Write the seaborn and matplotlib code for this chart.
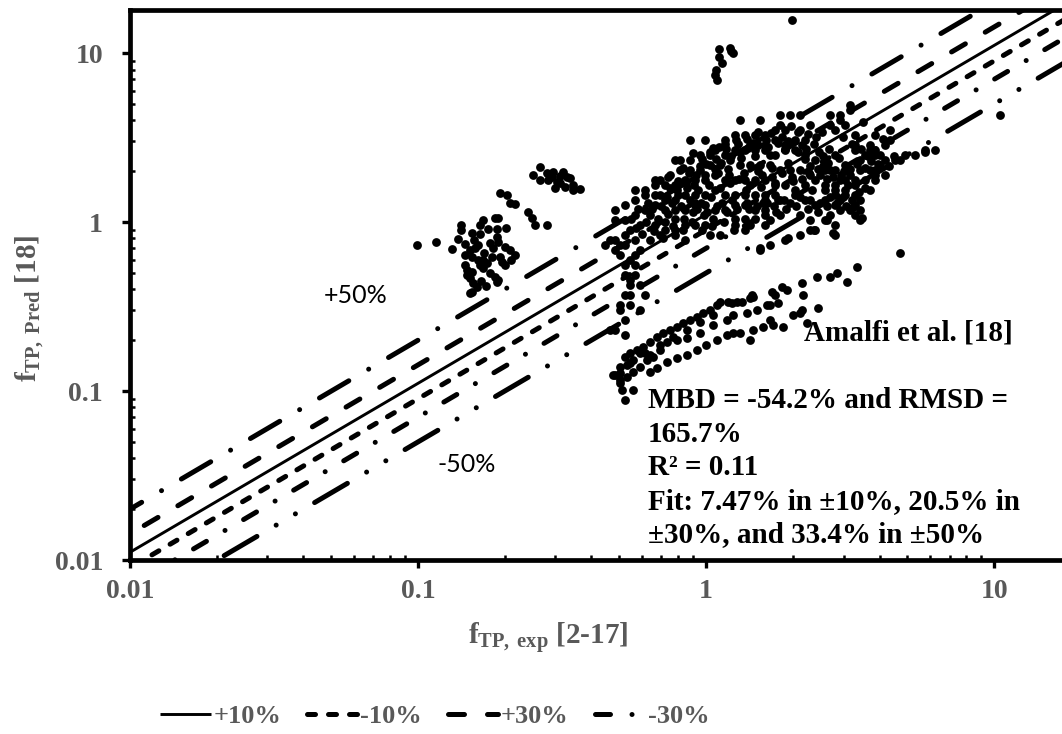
import matplotlib
matplotlib.use("Agg")
import matplotlib.pyplot as plt
import seaborn as sns
import pandas as pd
from matplotlib.lines import Line2D
from matplotlib.ticker import FixedLocator, LogLocator, NullFormatter

# ---------------- data (x = f_TP,exp ; y = f_TP,Pred) ----------------
left_group = [
    (0.099, 0.731), (0.115, 0.762), (0.131, 0.692), (0.141, 0.960), (0.141, 0.897), (0.138, 0.793),
    (0.154, 0.861), (0.164, 0.849), (0.168, 1.028), (0.164, 0.960), (0.175, 0.909), (0.185, 1.056),
    (0.190, 1.056), (0.188, 0.909), (0.202, 0.921), (0.188, 0.815), (0.178, 0.751), (0.162, 0.731),
    (0.152, 0.683), (0.146, 0.638), (0.154, 0.621), (0.162, 0.596), (0.168, 0.596), (0.182, 0.702),
    (0.193, 0.621), (0.200, 0.711), (0.209, 0.683), (0.217, 0.638), (0.196, 0.580), (0.146, 0.557),
    (0.148, 0.520), (0.154, 0.506), (0.168, 0.535), (0.178, 0.499), (0.185, 0.473), (0.190, 0.454),
    (0.152, 0.466), (0.155, 0.436), (0.160, 0.412), (0.154, 0.385), (0.148, 0.486), (0.164, 0.557),
    (0.174, 0.572), (0.152, 0.380), (0.188, 0.442), (0.158, 0.700), (0.170, 0.660), (0.180, 0.620),
    (0.165, 0.450), (0.172, 0.420), (0.200, 0.560), (0.210, 0.600), (0.145, 0.740), (0.157, 0.780),
    (0.190, 0.760),
]
upper_group = [
    (0.265, 2.115), (0.251, 1.897), (0.265, 1.773), (0.281, 1.950), (0.294, 1.977), (0.319, 1.977),
    (0.329, 1.846), (0.283, 1.773), (0.304, 1.725), (0.311, 1.700), (0.299, 1.589), (0.324, 1.611),
    (0.345, 1.655), (0.345, 1.546), (0.365, 1.567), (0.337, 1.820), (0.292, 1.850), (0.310, 1.880),
    (0.193, 1.485), (0.204, 1.445), (0.209, 1.295), (0.217, 1.278), (0.241, 1.146), (0.249, 1.056),
    (0.255, 0.960), (0.281, 0.960),
]
outlier_group = [
    (1.109, 10.56), (1.212, 10.71), (1.241, 10.00), (1.109, 9.47), (1.137, 8.73), (1.083, 7.93),
    (1.075, 7.41), (1.092, 6.92), (1.220, 10.30), (1.989, 15.67),
]
main_group = [
    (1.312, 4.01), (1.540, 4.01), (1.807, 4.30), (1.957, 4.30), (2.120, 4.30), (2.700, 4.30),
    (1.807, 3.75), (2.120, 3.50), (2.297, 3.75), (2.700, 3.75), (3.160, 4.92), (2.920, 4.30),
    (3.160, 4.60), (2.920, 4.01), (3.040, 3.75), (3.290, 3.27), (4.350, 3.50), (4.350, 3.06),
    (3.860, 3.27), (3.710, 2.855), (3.290, 2.855), (4.180, 2.855),
    (0.880, 3.06), (0.992, 3.06), (1.164, 3.06), (1.261, 3.27), (1.366, 3.27), (1.480, 3.27),
    (1.603, 3.27), (1.736, 3.50), (1.881, 3.50), (2.037, 3.06), (2.207, 3.06), (1.422, 2.855),
    (1.603, 2.855), (1.736, 3.06), (1.881, 2.855),
    (0.780, 2.33), (0.812, 2.33), (0.880, 2.33), (0.953, 2.49), (1.032, 2.49), (1.075, 2.67),
    (1.164, 2.49), (1.261, 2.67), (1.366, 2.67), (1.480, 2.67), (1.603, 2.67), (1.736, 2.49),
    (1.881, 2.67), (2.037, 2.67), (2.207, 2.49), (2.390, 2.33), (2.590, 2.33), (2.810, 2.49),
    (3.290, 2.67), (3.570, 2.49), (3.710, 2.67), (3.860, 2.67), (3.430, 2.33), (3.860, 2.49),
    (4.020, 2.175), (4.180, 2.33), (4.530, 2.33), (4.720, 2.33), (4.910, 2.49), (5.320, 2.49),
    (5.760, 2.67), (6.240, 2.67),
    (0.665, 1.773), (0.692, 1.773), (0.750, 1.897), (0.812, 2.03), (0.880, 2.03), (0.953, 2.03),
    (1.032, 2.175), (1.118, 2.175), (1.212, 2.33), (1.312, 2.175), (1.422, 2.175), (1.540, 2.175),
    (1.668, 2.175), (1.807, 2.03), (1.957, 2.03), (2.120, 2.03), (2.297, 1.897), (2.490, 1.897),
    (2.700, 2.03), (2.810, 2.03), (3.040, 2.175), (3.160, 1.897), (3.430, 2.03), (3.710, 2.03),
    (3.860, 2.03), (4.180, 1.897), (2.590, 2.03),
    (0.567, 1.547), (0.614, 1.547), (0.665, 1.656), (0.721, 1.656), (0.780, 1.656), (0.845, 1.773),
    (0.916, 1.773), (0.992, 1.773), (1.075, 1.897), (1.164, 1.773), (1.261, 1.773), (1.366, 1.773),
    (1.480, 1.773), (1.603, 1.773), (1.736, 1.656), (1.881, 1.656), (2.037, 1.547), (2.207, 1.656),
    (2.390, 1.773), (2.590, 1.656), (2.810, 1.656), (2.590, 1.547), (2.920, 1.773), (3.040, 1.773),
    (3.290, 1.773), (3.570, 1.773), (3.860, 1.897), (2.810, 1.547), (3.040, 1.547), (3.290, 1.656),
    (3.710, 1.547), (3.860, 1.773),
    (0.483, 1.178), (0.523, 1.26), (0.567, 1.35), (0.614, 1.445), (0.665, 1.445), (0.721, 1.35),
    (0.780, 1.35), (0.845, 1.445), (0.916, 1.445), (0.992, 1.445), (1.075, 1.547), (1.164, 1.445),
    (1.261, 1.445), (1.366, 1.445), (1.480, 1.445), (1.603, 1.445), (1.736, 1.445), (1.807, 1.35),
    (2.207, 1.35), (2.390, 1.26), (2.590, 1.35), (2.920, 1.35), (3.040, 1.445), (3.290, 1.445),
    (3.430, 1.35), (2.810, 1.445),
    (0.483, 1.028), (0.523, 1.028), (0.567, 1.10), (0.614, 1.178), (0.665, 1.26), (0.721, 1.178),
    (0.780, 1.178), (0.845, 1.178), (0.916, 1.26), (0.992, 1.26), (1.075, 1.178), (1.164, 1.178),
    (1.261, 1.26), (1.366, 1.26), (1.480, 1.178), (1.603, 1.178), (1.603, 1.35), (1.668, 1.028),
    (1.807, 1.10), (2.120, 1.10), (2.297, 1.028), (2.590, 1.028), (2.920, 1.178), (2.810, 1.26),
    (3.290, 1.26), (3.430, 1.178), (3.290, 1.10), (3.430, 1.028), (2.700, 1.10), (2.810, 0.960),
    (2.810, 0.838), (3.160, 1.178),
    (0.523, 0.838), (0.545, 0.897), (0.590, 0.960), (0.665, 0.960), (0.721, 0.897), (0.780, 0.897),
    (0.845, 0.960), (0.916, 0.960), (0.992, 0.960), (1.261, 0.960), (1.422, 0.960), (1.603, 0.960),
    (0.523, 0.731), (0.567, 0.782), (0.639, 0.782), (0.692, 0.838), (0.780, 0.838), (0.845, 0.782),
    (1.032, 0.838), (1.118, 0.838), (1.366, 0.897), (1.540, 0.683), (1.668, 0.731), (1.881, 0.782),
    (2.297, 0.897), (2.390, 0.897), (2.120, 0.838), (1.540, 0.700), (1.920, 0.800), (2.360, 0.897),
    (2.630, 1.03), (2.760, 0.86), (3.480, 1.06), (3.240, 1.23), (2.990, 1.41),
    (4.720, 0.655), (3.340, 0.540), (10.50, 4.30), (5.760, 2.59),
]
main_core = [
    (0.60, 0.85), (0.62, 1.00), (0.64, 1.10), (0.66, 0.88), (0.68, 1.05), (0.70, 1.25), (0.72, 1.00),
    (0.74, 1.12), (0.76, 1.30), (0.78, 1.05), (0.80, 1.45), (0.82, 1.25), (0.84, 1.05), (0.86, 1.60),
    (0.88, 1.35), (0.90, 1.15), (0.92, 1.90), (0.94, 1.55), (0.96, 1.30), (0.98, 1.10), (1.00, 2.20),
    (1.02, 1.65), (1.04, 1.40), (1.06, 1.05), (1.08, 2.35), (1.10, 1.95), (1.12, 1.60), (1.14, 1.30),
    (1.17, 2.70), (1.19, 2.05), (1.21, 1.70), (1.23, 1.35), (1.26, 1.05), (1.29, 2.90), (1.32, 2.40),
    (1.35, 1.95), (1.38, 1.55), (1.41, 1.20), (1.45, 2.95), (1.48, 2.45), (1.51, 2.00), (1.55, 1.62),
    (1.58, 1.30), (1.62, 3.05), (1.66, 2.50), (1.70, 2.10), (1.74, 1.70), (1.78, 1.35), (1.83, 3.20),
    (1.88, 2.70), (1.93, 2.25), (1.98, 1.85), (2.03, 1.45), (2.09, 3.40), (2.15, 2.85), (2.21, 2.35),
    (2.27, 1.95), (2.33, 1.55), (2.40, 3.20), (2.47, 2.60), (2.54, 2.15), (2.62, 1.80), (2.70, 1.40),
    (2.80, 3.50), (2.90, 2.40), (3.00, 2.00), (3.10, 1.65), (0.58, 1.20), (0.55, 1.05), (0.57, 0.92),
    (0.63, 1.30), (0.69, 1.45), (0.75, 1.60), (0.80, 1.75), (0.87, 1.95), (0.95, 2.15), (1.03, 2.60),
    (1.11, 2.80), (0.71, 0.80), (0.77, 0.95), (0.83, 0.90), (0.89, 1.00), (0.97, 0.90), (1.05, 0.95),
    (1.15, 1.00), (1.25, 0.90), (1.36, 1.05), (1.48, 1.05), (1.60, 1.10), (1.75, 1.15), (1.90, 1.20),
    (2.05, 1.25), (2.25, 1.20), (2.45, 1.15),
]
main_fill = [
    (0.65, 1.20), (0.73, 1.40), (0.79, 1.55), (0.85, 1.70), (0.91, 1.65), (0.99, 1.90), (1.07, 2.05),
    (1.13, 2.25), (1.22, 2.45), (1.31, 2.60), (1.40, 2.75), (1.52, 2.85), (1.64, 2.80), (1.77, 2.95),
    (1.92, 3.00), (2.08, 2.60), (2.22, 2.70), (2.36, 2.90), (2.55, 2.45), (2.68, 2.70),
    (0.93, 1.20), (1.01, 1.15), (1.09, 1.25), (1.18, 1.15), (1.28, 1.20), (1.39, 1.30), (1.50, 1.25),
    (1.63, 1.30), (1.72, 1.25), (1.86, 1.35), (1.96, 1.30), (2.12, 1.40), (2.30, 1.35), (2.48, 1.30),
    (2.62, 1.25), (2.85, 1.30), (3.05, 1.25), (3.20, 1.35), (3.40, 1.50), (3.55, 1.60),
    (1.20, 1.90), (1.30, 1.80), (1.42, 1.65), (1.56, 1.90), (1.70, 1.85), (1.84, 1.95), (2.00, 1.75),
    (2.15, 1.80), (2.30, 2.15), (2.45, 2.05), (2.65, 2.25), (2.75, 1.85), (2.95, 1.90), (3.15, 2.05),
    (3.35, 2.20), (3.55, 2.10), (3.75, 2.30), (3.95, 2.20), (4.30, 2.15), (4.50, 2.45),
    (0.74, 1.85), (0.83, 2.10), (0.90, 2.55), (0.97, 2.35), (1.06, 2.75), (1.16, 2.90), (1.27, 3.05),
    (1.39, 3.10), (1.52, 3.40), (1.68, 3.35), (1.97, 3.70), (2.26, 3.30), (2.52, 3.40), (2.98, 3.20),
    (3.20, 2.90), (3.45, 2.70), (3.65, 2.45), (4.00, 2.50), (4.10, 3.10), (3.50, 3.90),
]
streak_group = [
    (0.464, 0.782), (0.483, 0.782), (0.446, 0.731), (0.483, 0.683), (0.503, 0.638), (0.523, 0.557),
    (0.523, 0.486), (0.545, 0.424), (0.545, 0.370), (0.523, 0.370), (0.503, 0.323), (0.503, 0.3015),
    (0.523, 0.263), (0.523, 0.2144), (0.567, 0.557), (0.567, 0.486), (0.590, 0.424), (0.614, 0.370),
    (0.545, 0.454), (0.545, 0.323), (0.590, 0.3015), (0.464, 0.2296), (0.483, 0.2296), (0.545, 0.596),
    (0.590, 0.683), (0.567, 0.638), (0.503, 0.731),
]
band_upper = [
    (0.483, 0.1244), (0.503, 0.139), (0.523, 0.159), (0.545, 0.169), (0.576, 0.1748), (0.604, 0.182),
    (0.639, 0.195), (0.676, 0.209), (0.709, 0.220), (0.750, 0.2296), (0.793, 0.239), (0.832, 0.252),
    (0.880, 0.263), (0.931, 0.274), (0.976, 0.290), (1.032, 0.3015), (1.092, 0.323), (1.118, 0.337),
    (1.230, 0.332), (1.280, 0.337), (1.330, 0.337), (1.422, 0.355), (1.457, 0.360), (1.700, 0.385),
    (1.840, 0.412), (2.150, 0.436), (2.430, 0.473), (2.700, 0.473), (2.850, 0.499), (3.090, 0.442),
    (2.170, 0.370), (1.440, 0.370), (0.503, 0.128), (0.531, 0.1425), (0.558, 0.1526), (0.614, 0.169),
    (0.692, 0.187), (0.768, 0.209), (0.858, 0.2296), (0.953, 0.256), (1.058, 0.282), (1.190, 0.337),
]
band_middle = [
    (0.503, 0.111), (0.531, 0.121), (0.558, 0.130), (0.590, 0.139), (0.624, 0.1526), (0.655, 0.159),
    (0.732, 0.195), (0.793, 0.2003), (0.858, 0.206), (0.953, 0.220), (1.058, 0.2457), (1.180, 0.263),
    (1.240, 0.282), (1.390, 0.290), (1.500, 0.3015), (1.668, 0.323), (1.736, 0.370), (1.910, 0.396),
    (0.692, 0.1748), (0.639, 0.1633), (1.630, 0.323), (1.780, 0.332), (2.150, 0.3015), (1.668, 0.263),
]
band_lower = [
    (0.510, 0.1014), (0.523, 0.0885), (0.558, 0.1014), (0.639, 0.130), (0.676, 0.137), (0.732, 0.149),
    (0.793, 0.156), (0.858, 0.1633), (0.931, 0.1748), (1.000, 0.1871), (1.092, 0.2003), (1.180, 0.2144),
    (1.240, 0.220), (1.312, 0.220), (1.422, 0.2003), (1.457, 0.2296), (1.580, 0.239), (1.710, 0.2457),
    (1.850, 0.239), (2.000, 0.282), (2.120, 0.290), (2.240, 0.252), (2.450, 0.310), (0.476, 0.1244),
    (0.503, 0.1162), (0.545, 0.147), (0.590, 0.168),
]

# error-band reference lines y = factor * x
band_labels = ["+10%", "-10%", "+30%", "-30%", "+50%", "-50%"]
band_factors = [1 / 0.9, 0.9, 1 / 0.7, 0.7, 1 / 0.5, 0.5]
ref_x = [0.005, 40.0]

tick_values = [0.01, 0.1, 1, 10]
tick_labels = ["0.01", "0.1", "1", "10"]

# ---------------- styling ----------------
sns.set_theme(style="white")
plt.rcParams["font.family"] = ["Liberation Serif", "DejaVu Serif"]
plt.rcParams["mathtext.fontset"] = "custom"
plt.rcParams["mathtext.rm"] = "Liberation Serif"
plt.rcParams["mathtext.bf"] = "Liberation Serif:bold"
plt.rcParams["mathtext.it"] = "Liberation Serif:italic"

GRAY = "#595959"
W, H = 1062, 734
fig = plt.figure(figsize=(W / 100, H / 100), dpi=100)
ax = fig.add_axes([130 / W, (H - 560) / H, (W - 130) / W, 550 / H])
ax.set_xscale("log")
ax.set_yscale("log")

LW = 3.6
styles = {
    "+10%": dict(linestyle="-", linewidth=2.1),
    "-10%": dict(linestyle=(0, (1.6, 2.6)), linewidth=LW),
    "+30%": dict(linestyle=(0, (3.2, 4.6)), linewidth=LW),
    "-30%": dict(linestyle=(0, (3.0, 4.3, 0.01, 4.3)), linewidth=LW),
    "+50%": dict(linestyle=(0, (6.8, 4.6, 0.01, 4.6)), linewidth=LW),
    "-50%": dict(linestyle=(0, (7.6, 4.45, 0.01, 4.45, 0.01, 4.45)), linewidth=LW),
}

for lab, fac in zip(band_labels, band_factors):
    ref_y = [fac * v for v in ref_x]
    sns.lineplot(x=ref_x, y=ref_y, ax=ax, color="black", zorder=2, **styles[lab])
for ln, lab in zip(ax.get_lines(), band_labels):
    ln.set_linewidth(styles[lab]["linewidth"])
    ln.set_dash_capstyle("round")
    ln.set_solid_capstyle("butt")

groups = [left_group, upper_group, outlier_group, main_group, main_core, main_fill,
          streak_group, band_upper, band_middle, band_lower]
df = pd.DataFrame([p for g in groups for p in g], columns=["exp", "pred"])
sns.scatterplot(data=df, x="exp", y="pred", ax=ax, color="black", s=40,
                linewidth=0, zorder=3, legend=False)

ax.set_xlim(0.01, 17.2)
ax.set_ylim(0.01, 18)
ax.set_xlabel("")
ax.set_ylabel("")

for side in ["left", "bottom", "top"]:
    ax.spines[side].set_visible(True)
    ax.spines[side].set_color("black")
    ax.spines[side].set_linewidth(3.4)
ax.spines["right"].set_visible(False)

ax.xaxis.set_major_locator(FixedLocator(tick_values))
ax.yaxis.set_major_locator(FixedLocator(tick_values))
ax.set_xticklabels(tick_labels)
ax.set_yticklabels(tick_labels)
ax.xaxis.set_minor_locator(LogLocator(base=10, subs=range(2, 10), numticks=20))
ax.yaxis.set_minor_locator(LogLocator(base=10, subs=range(2, 10), numticks=20))
ax.xaxis.set_minor_formatter(NullFormatter())
ax.yaxis.set_minor_formatter(NullFormatter())
ax.tick_params(which="major", direction="out", length=5.5, width=2.4, color="black",
               bottom=True, left=True, top=False, right=False)
ax.tick_params(which="minor", direction="in", length=3.5, width=1.8, color="black",
               bottom=True, left=True, top=False, right=False)
ax.tick_params(axis="x", which="major", pad=8)
ax.tick_params(axis="y", which="major", pad=14)
for t in ax.get_xticklabels() + ax.get_yticklabels():
    t.set_fontsize(20)
    t.set_fontweight("bold")
    t.set_color(GRAY)
    t.set_family("Liberation Serif")

# axis titles
fig.text(548 / W, 1 - 638 / H, r"$\mathbf{f}_{\mathbf{TP,\ exp}}$ [2-17]", ha="center", va="center",
         fontsize=21, fontweight="bold", color=GRAY)
fig.text(30 / W, 1 - 308 / H, r"$\mathbf{f}_{\mathbf{TP,\ Pred}}$ [18]", ha="center", va="center",
         rotation=90, fontsize=21, fontweight="bold", color=GRAY)

# band labels
fig.text(356 / W, 1 - 296 / H, "+50%", ha="center", va="center", fontsize=18,
         family=["Lato", "DejaVu Sans"], color="black")
fig.text(467 / W, 1 - 465 / H, "-50%", ha="center", va="center", fontsize=18,
         family=["Lato", "DejaVu Sans"], color="black")

# annotation
ann_kw = dict(fontsize=21, fontweight="bold", color="black", ha="left", va="baseline")
fig.text(804 / W, 1 - 341 / H, "Amalfi et al. [18]", **ann_kw)
ann_lines = ["MBD = -54.2% and RMSD =", "165.7%", "R\u00b2 = 0.11",
             "Fit: 7.47% in \u00b110%, 20.5% in", "\u00b130%, and 33.4% in \u00b150%"]
ann_base = [408, 442, 475, 509, 542]
for txt, yb in zip(ann_lines, ann_base):
    fig.text(648 / W, 1 - yb / H, txt, **ann_kw)

# legend (first four series)
handles = [Line2D([0], [0], color="black", dash_capstyle="round", solid_capstyle="butt",
                  **styles[lab]) for lab in band_labels[:4]]
leg = fig.legend(handles, band_labels[:4], loc="center", bbox_to_anchor=(435 / W, 18 / H),
                 ncol=4, frameon=False, handlelength=1.9, handletextpad=0.1, columnspacing=1.0,
                 prop=dict(family="Liberation Serif", weight="bold", size=19))
for t in leg.get_texts():
    t.set_color(GRAY)

fig.savefig("out.png", dpi=100)
